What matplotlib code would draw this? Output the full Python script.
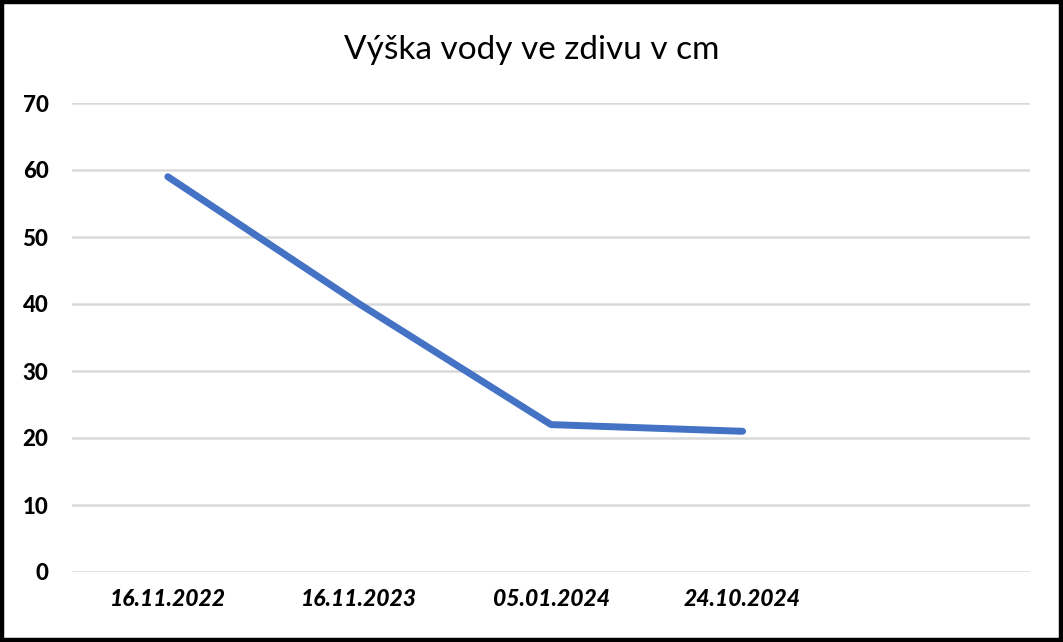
import matplotlib
matplotlib.use("Agg")
import matplotlib.pyplot as plt
from matplotlib.patches import Rectangle

categories = ["16.11.2022", "16.11.2023", "05.01.2024", "24.10.2024", ""]
values = [59, 40, 22, 21]
yticks = [0, 10, 20, 30, 40, 50, 60, 70]
title = "Výška vody ve zdivu v cm"

plt.rcParams['font.family'] = ['Lato', 'DejaVu Sans']

fig = plt.figure(figsize=(10.63, 6.42), dpi=100)
ax = fig.add_axes([72/1063, 70/642, (1030-72)/1063, (572-103)/642])

x = list(range(len(categories)))
ax.plot(x[:len(values)], values, color="#4472C4", linewidth=5, solid_capstyle="round", solid_joinstyle="round", zorder=3)

ax.set_xlim(-0.5, len(categories) - 0.5)
ax.set_ylim(0, 70)
ax.set_yticks(yticks)
ax.set_yticklabels([str(v) for v in yticks], fontsize=16, fontweight="black")
ax.set_xticks(x)
ax.set_xticklabels(categories, fontsize=16.5, fontweight="black", fontstyle="italic")
ax.grid(axis="y", color="#d9d9d9", linewidth=1.8, zorder=0)
ax.tick_params(axis="both", length=0)
ax.tick_params(axis="y", pad=17)
ax.tick_params(axis="x", pad=12)
for s in ax.spines.values():
    s.set_visible(False)

fig.text(0.5, 1 - 50/642, title, ha="center", va="center", fontsize=24)

fig.patches.append(Rectangle((0.002, 0.003), 0.996, 0.994, transform=fig.transFigure,
                             fill=False, edgecolor="black", linewidth=3.2))

fig.savefig("out.png", dpi=100)
